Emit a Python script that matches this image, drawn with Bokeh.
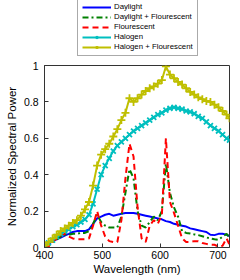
from bokeh.plotting import figure
from bokeh.layouts import column
from bokeh.models import Legend, LegendItem, FixedTicker, Range1d
from bokeh.embed import file_html
from bokeh.resources import INLINE

wavelength = [400, 407, 414, 421, 428, 435, 442, 449, 456, 463, 470, 477, 484, 491, 498,
              505, 512, 519, 526, 533, 540, 547, 554, 561, 568, 575, 582, 589, 596, 603,
              610, 617, 624, 631, 638, 645, 652, 659, 666, 673, 680, 687, 694, 701, 708,
              715, 720]

daylight = [0.005, 0.02, 0.035, 0.045, 0.055, 0.065, 0.075, 0.085, 0.09, 0.09, 0.09, 0.10,
            0.13, 0.16, 0.17, 0.18, 0.185, 0.175, 0.18, 0.185, 0.19, 0.19, 0.19, 0.185,
            0.18, 0.175, 0.17, 0.165, 0.16, 0.155, 0.145, 0.14, 0.13, 0.125, 0.12, 0.115,
            0.105, 0.10, 0.095, 0.09, 0.085, 0.07, 0.068, 0.075, 0.075, 0.07, 0.062]

daylight_fluor = [0.005, 0.015, 0.03, 0.045, 0.06, 0.07, 0.07, 0.075, 0.075, 0.08, 0.08,
                  0.09, 0.13, 0.18, 0.14, 0.12, 0.11, 0.11, 0.11, 0.17, 0.30, 0.43, 0.38,
                  0.20, 0.12, 0.11, 0.14, 0.17, 0.15, 0.20, 0.46, 0.30, 0.22, 0.17, 0.09,
                  0.08, 0.077, 0.072, 0.068, 0.062, 0.055, 0.05, 0.045, 0.042, 0.06, 0.075,
                  0.055]

fluorescent = [0.0, 0.005, 0.03, 0.05, 0.065, 0.075, 0.06, 0.05, 0.045, 0.045, 0.045, 0.05,
               0.12, 0.20, 0.12, 0.06, 0.035, 0.03, 0.03, 0.15, 0.38, 0.57, 0.50, 0.22,
               0.05, 0.03, 0.12, 0.15, 0.13, 0.18, 0.60, 0.25, 0.19, 0.12, 0.05, 0.03,
               0.03, 0.035, 0.035, 0.025, 0.02, 0.015, 0.015, 0.005, 0.01, 0.05, 0.015]

halogen = [0.01, 0.025, 0.04, 0.06, 0.075, 0.09, 0.10, 0.115, 0.125, 0.14, 0.155, 0.18,
           0.24, 0.32, 0.40, 0.45, 0.49, 0.53, 0.56, 0.58, 0.60, 0.62, 0.64, 0.655, 0.67,
           0.685, 0.70, 0.715, 0.73, 0.74, 0.755, 0.765, 0.77, 0.765, 0.76, 0.75, 0.745,
           0.735, 0.72, 0.71, 0.69, 0.67, 0.655, 0.64, 0.62, 0.60, 0.59]

halogen_fluor = [0.01, 0.03, 0.05, 0.07, 0.09, 0.105, 0.12, 0.135, 0.15, 0.175, 0.21, 0.25,
                 0.34, 0.45, 0.51, 0.54, 0.57, 0.61, 0.65, 0.70, 0.74, 0.82, 0.80, 0.82,
                 0.84, 0.86, 0.875, 0.885, 0.90, 0.92, 0.995, 0.95, 0.93, 0.91, 0.895,
                 0.875, 0.855, 0.84, 0.825, 0.815, 0.805, 0.80, 0.785, 0.77, 0.75, 0.73,
                 0.71]

series_names = ["Daylight", "Daylight + Flourescent", "Flourescent", "Halogen",
                "Halogen + Flourescent"]

x_ticks = [400, 500, 600, 700]
y_ticks = [0, 0.2, 0.4, 0.6, 0.8, 1]
y_labels = {0: "0", 0.2: "0.2", 0.4: "0.4", 0.6: "0.6", 0.8: "0.8", 1: "1"}

FONT = "Liberation Sans"
AX = "#333333"
LW = 2


def draw_series(fig):
    r_day = fig.line(wavelength, daylight, line_color="#0000FF", line_width=LW)
    r_dfl = fig.line(wavelength, daylight_fluor, line_color="#008000", line_width=LW,
                     line_dash="6 3 2 3")
    r_flu = fig.line(wavelength, fluorescent, line_color="#FF0000", line_width=LW,
                     line_dash="6 4")
    r_hal = fig.line(wavelength, halogen, line_color="#00BFBF", line_width=LW)
    r_hal_m = fig.scatter(wavelength, halogen, marker="x", size=7, line_color="#00BFBF",
                          line_width=1.8)
    r_hfl = fig.line(wavelength, halogen_fluor, line_color="#BFBF00", line_width=LW)
    r_hfl_m = fig.scatter(wavelength, halogen_fluor, marker="cross", size=8,
                          line_color="#BFBF00", line_width=1.8)
    return [[r_day], [r_dfl], [r_flu], [r_hal, r_hal_m], [r_hfl, r_hfl_m]]


# ---- legend strip (its data lie outside the visible range: only the legend shows)
# its frame is aligned with the main chart's frame (left edge at 44px) by the column
lg = figure(width=240, height=58, output_backend="svg", toolbar_location=None,
            x_range=Range1d(0, 1), y_range=Range1d(0, 1),
            x_axis_type=None, y_axis_type=None,
            min_border_left=0, min_border_right=0, min_border_top=0, min_border_bottom=0)
lg.grid.visible = False
lg.outline_line_color = None
lg.background_fill_color = "white"
lg.border_fill_color = "white"
lg_renderers = draw_series(lg)

legend = Legend(items=[LegendItem(label=n, renderers=r)
                       for n, r in zip(series_names, lg_renderers)],
                location=(33, 2))
legend.label_text_font = FONT
legend.label_text_font_size = "7.8px"
legend.label_text_color = "black"
legend.label_height = 8
legend.glyph_height = 8
legend.glyph_width = 29
legend.label_standoff = 3
legend.spacing = 1
legend.padding = 4
legend.margin = 0
legend.border_line_color = "#555555"
legend.border_line_width = 1
legend.background_fill_color = "white"
legend.background_fill_alpha = 1
lg.add_layout(legend, "center")

# ---- main chart
p = figure(width=240, height=222, output_backend="svg", toolbar_location=None,
           x_range=Range1d(400, 720), y_range=Range1d(0, 1),
           min_border_left=44, min_border_right=11, min_border_top=7, min_border_bottom=33)
p.background_fill_color = "white"
p.border_fill_color = "white"
p.grid.visible = False
p.outline_line_color = AX
p.outline_line_width = 1

for ax in (p.xaxis[0], p.yaxis[0]):
    ax.major_tick_in = 4
    ax.major_tick_out = 0
    ax.minor_tick_line_color = None
    ax.axis_line_color = AX
    ax.major_tick_line_color = AX
    ax.major_label_text_font = FONT
    ax.major_label_text_font_size = "10.5px"
    ax.major_label_text_color = "black"
    ax.axis_label_text_font = FONT
    ax.axis_label_text_font_size = "11.5px"
    ax.axis_label_text_font_style = "normal"
    ax.axis_label_text_color = "black"

p.xaxis[0].major_label_standoff = 3
p.xaxis[0].axis_label_standoff = 1
p.yaxis[0].major_label_standoff = 6
p.yaxis[0].axis_label_standoff = 3

p.xaxis[0].ticker = FixedTicker(ticks=x_ticks)
p.yaxis[0].ticker = FixedTicker(ticks=y_ticks)
p.yaxis[0].major_label_overrides = y_labels
p.xaxis[0].axis_label = "Wavelength (nm)"
p.yaxis[0].axis_label = "Normalized Spectral Power"

draw_series(p)

layout = column(lg, p, spacing=0)
open("out.html", "w").write(file_html(layout, INLINE))
